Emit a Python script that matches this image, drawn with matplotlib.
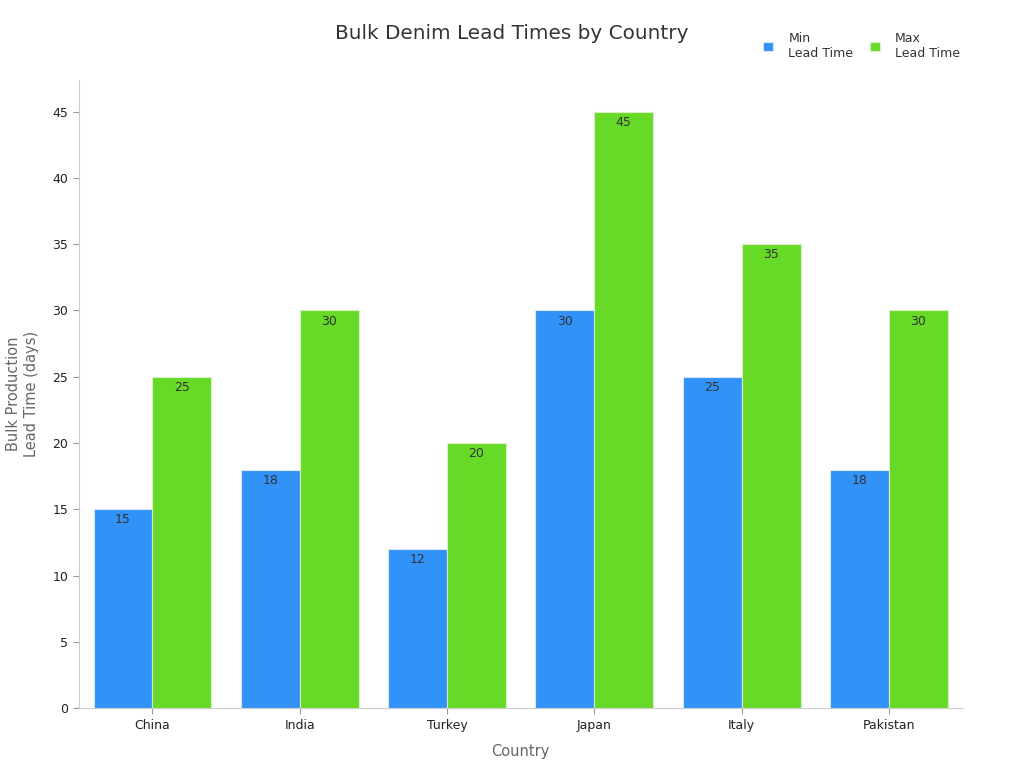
import matplotlib.pyplot as plt
import numpy as np

countries = ["China", "India", "Turkey", "Japan", "Italy", "Pakistan"]
min_lead = [15, 18, 12, 30, 25, 18]
max_lead = [25, 30, 20, 45, 35, 30]

blue = "#3192F7"
green = "#66DA26"

fig = plt.figure(figsize=(10.24, 7.68), dpi=100)
ax = fig.add_axes([0.077, 0.078, 0.863, 0.818])

x = np.arange(len(countries))
w = 0.4
b1 = ax.bar(x - w / 2, min_lead, w, color=blue, edgecolor="#d8e8f8", linewidth=0.8, label="Min\nLead Time")
b2 = ax.bar(x + w / 2, max_lead, w, color=green, edgecolor="#d8f0c8", linewidth=0.8, label="Max\nLead Time")

for bars in (b1, b2):
    for r in bars:
        ax.annotate(f"{int(r.get_height())}", (r.get_x() + r.get_width() / 2, r.get_height()),
                    xytext=(0, -3), textcoords="offset points", ha="center", va="top",
                    fontsize=9, color="#333333")

ax.set_xlim(-0.5, 5.5)
ax.set_ylim(0, 47.4)
ax.set_xticks(x)
ax.set_xticklabels(countries)
ax.set_yticks(range(0, 46, 5))
ax.tick_params(labelsize=9, colors="#222222", length=4)
ax.tick_params(axis="both", color="#999999")
for s in ("top", "right"):
    ax.spines[s].set_visible(False)
for s in ("left", "bottom"):
    ax.spines[s].set_color("#cccccc")

ax.set_xlabel("Country", fontsize=10.5, color="#666666", labelpad=9)
ax.set_ylabel("Bulk Production\nLead Time (days)", fontsize=10.5, color="#666666", labelpad=10)

fig.text(0.5, 0.957, "Bulk Denim Lead Times by Country", ha="center", va="center",
         fontsize=14.4, color="#333333")

leg = fig.legend(loc="upper right", bbox_to_anchor=(0.948, 0.973), ncol=2, frameon=False,
                 fontsize=9, handlelength=0.8, handleheight=0.8, columnspacing=1.3, handletextpad=1.2)
for t in leg.get_texts():
    t.set_color("#333333")

fig.savefig("out.png", dpi=100)
